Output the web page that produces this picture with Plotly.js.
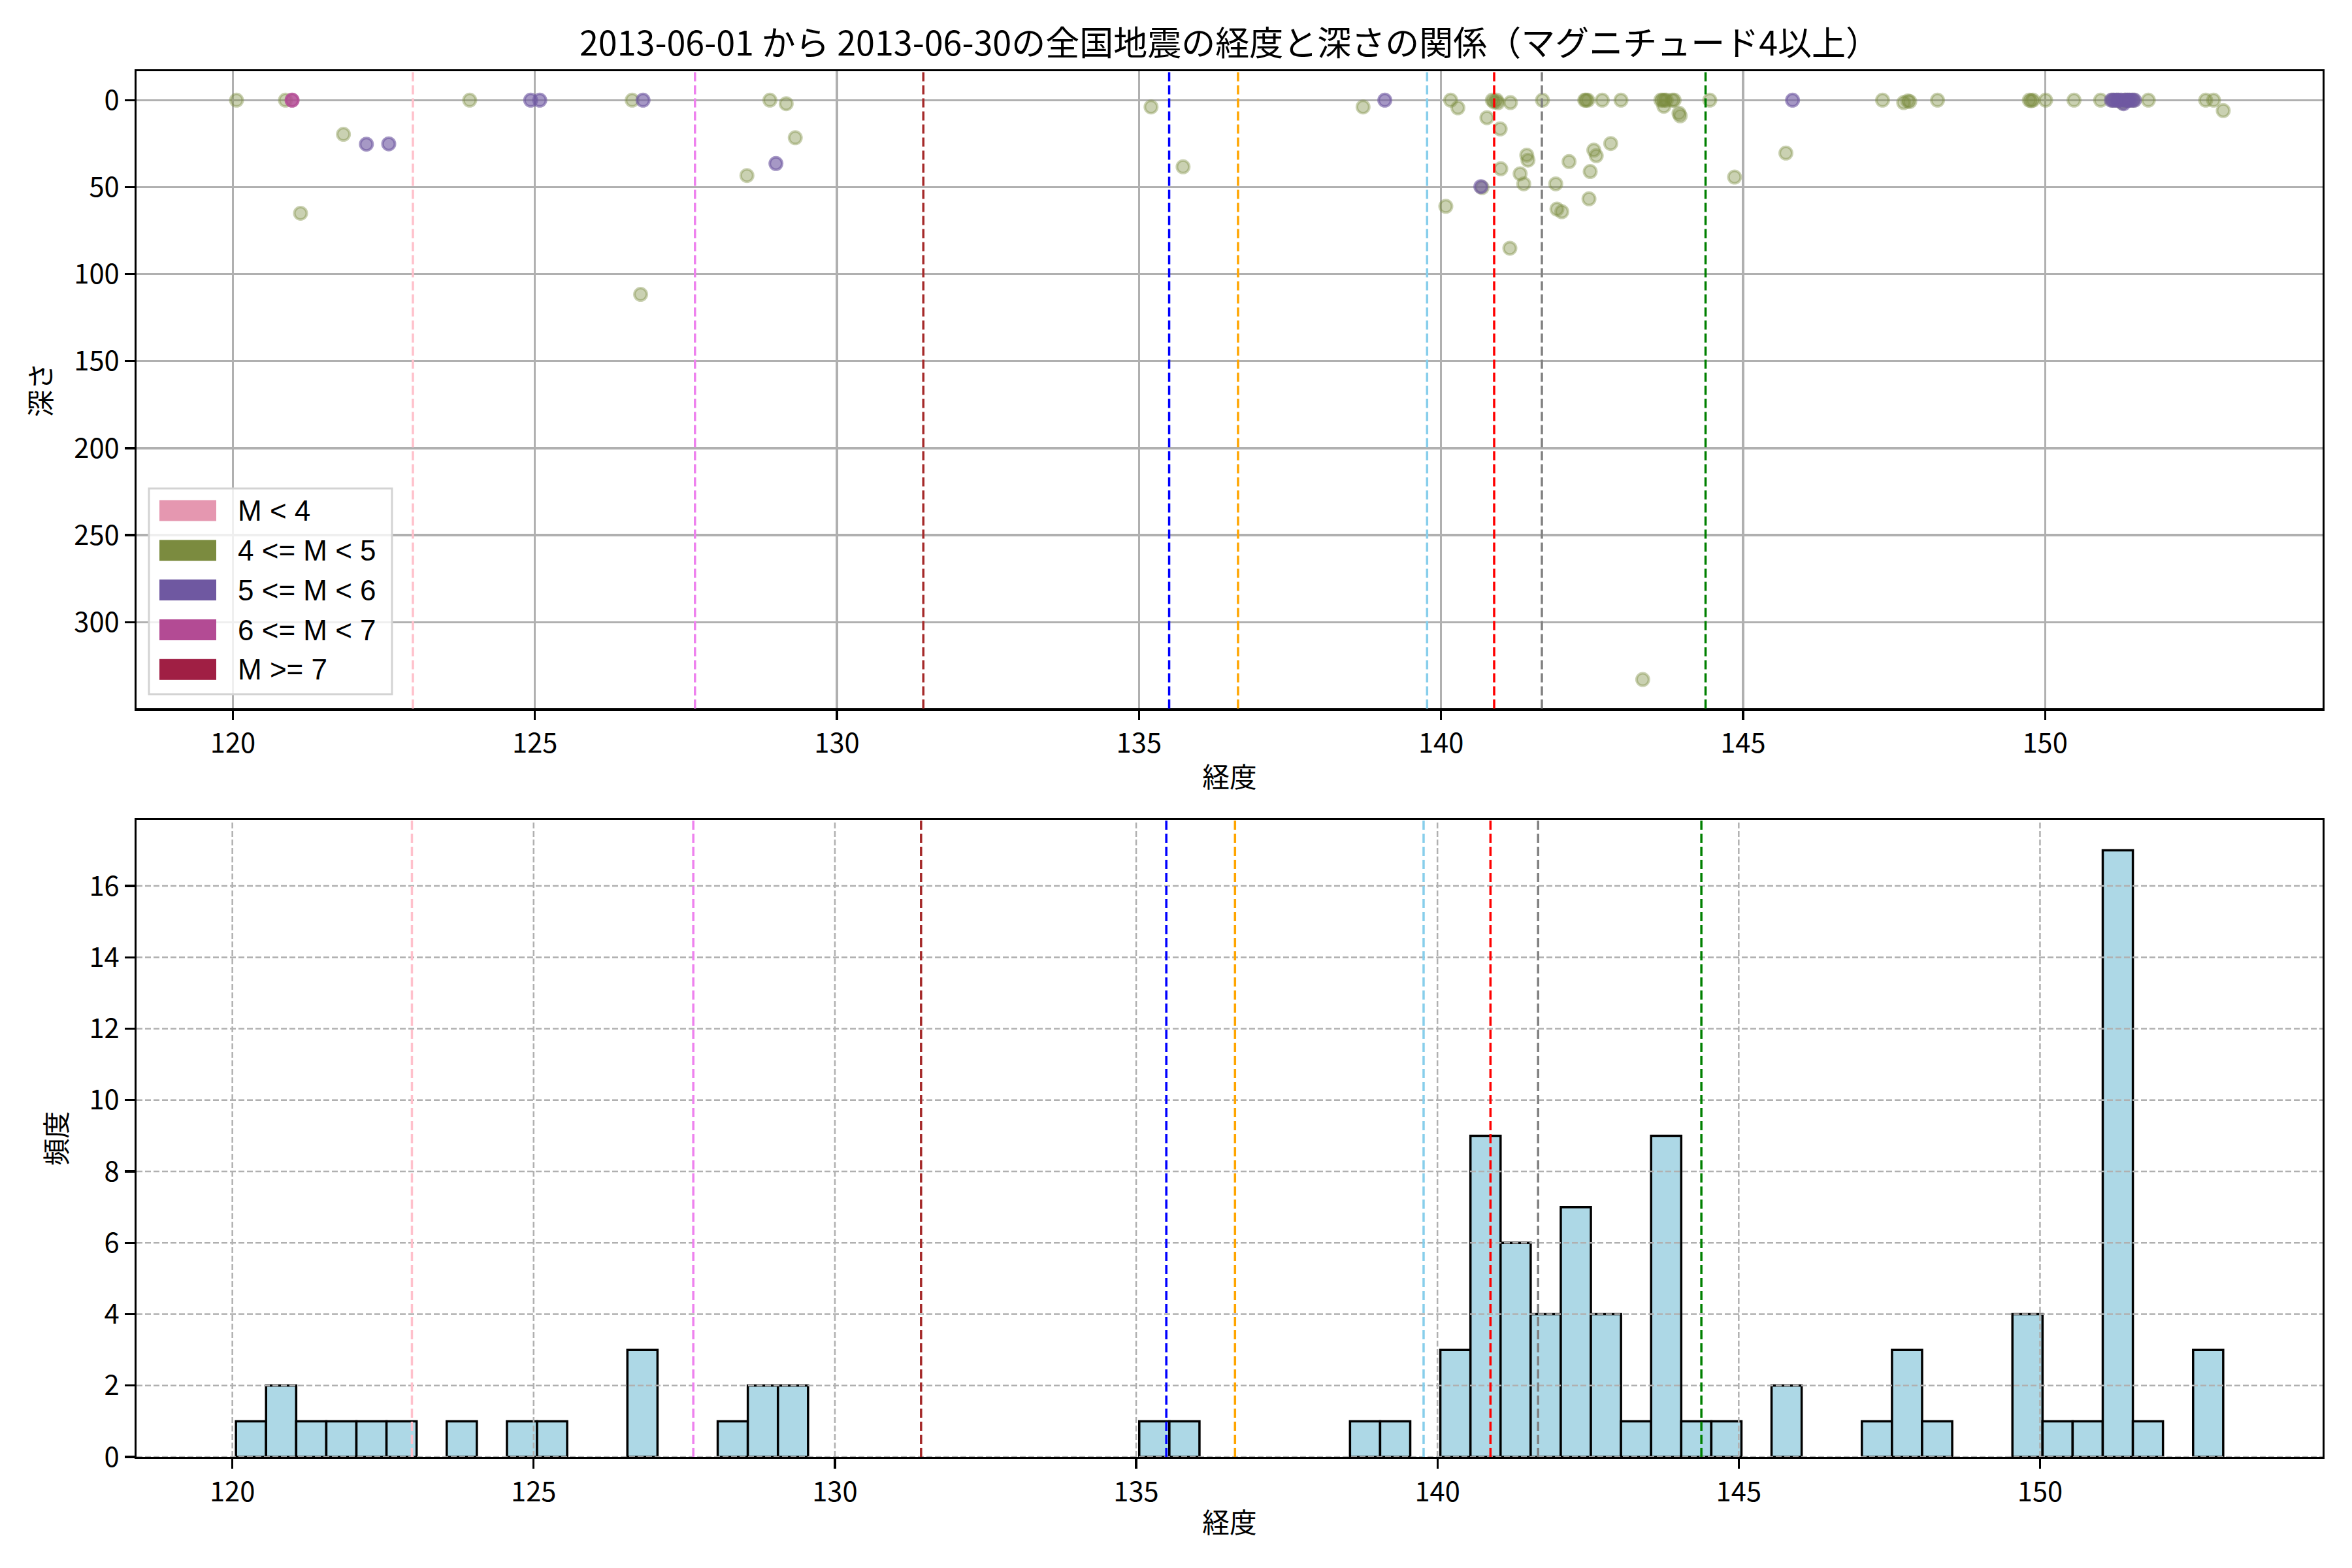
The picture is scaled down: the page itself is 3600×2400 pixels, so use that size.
<!DOCTYPE html>
<html><head><meta charset="utf-8">
<script src="https://cdn.plot.ly/plotly-3.0.1.min.js"></script>
<style>html,body{margin:0;padding:0;background:#fff}#chart{width:3600px;height:2400px}</style>
</head><body><div id="chart"></div>
<script>
// ---------------- data ----------------
const titleText = '2013-06-01 から 2013-06-30の全国地震の経度と深さの関係（マグニチュード4以上）';
const xLabel = '経度';
const depthLabel = '深さ';
const freqLabel = '頻度';

const classLabels = ['M < 4', '4 <= M < 5', '5 <= M < 6', '6 <= M < 7', 'M >= 7'];
const classColors = ['#E597B0', '#7B8B3F', '#6F58A1', '#B34B94', '#A01F44'];

// longitude, depth, magnitude class index (0..4)
const lonData = [
  120.06, 120.87, 120.98, 121.12, 121.83, 122.21, 122.58, 123.92, 124.93, 125.08,
  126.61, 126.79, 126.75, 128.51, 128.89, 128.99, 129.16, 129.31,
  135.20, 135.73, 138.71, 139.07,
  140.08, 140.16, 140.28,
  140.66, 140.68, 140.76, 140.85, 140.88, 140.92, 140.94, 140.98, 140.99,
  141.15, 141.14, 141.31, 141.37, 141.42, 141.44,
  141.68, 141.90, 141.92, 142.00,
  142.12, 142.38, 142.40, 142.43, 142.45, 142.47, 142.53,
  142.57, 142.67, 142.81, 142.98,
  143.34,
  143.64, 143.67, 143.69, 143.70, 143.73, 143.83, 143.86, 143.94, 143.96,
  144.45, 144.86, 145.71, 145.82,
  147.31, 147.66, 147.73, 147.76, 148.22,
  149.74, 149.77, 149.80, 150.01, 150.48, 150.92,
  151.10, 151.14, 151.18, 151.22, 151.26, 151.30, 151.33, 151.36, 151.40, 151.44, 151.48,
  151.12, 151.20, 151.28, 151.32, 151.38, 151.46,
  151.71, 152.66, 152.79, 152.95
];
const depthData = [
  0, 0, 0, 65, 19.6, 25.3, 25.1, 0, 0, 0,
  0, 0, 111.6, 43.3, 0, 36.4, 2, 21.6,
  3.9, 38.3, 3.9, 0,
  61, 0, 4.4,
  49.7, 50.2, 10.1, 0, 1, 0, 1.5, 16.5, 39.4,
  1.4, 85.1, 42.3, 48.1, 31.6, 34.5,
  0, 48.1, 62.6, 64.1,
  35.3, 0, 0, 0, 56.7, 41, 28.7,
  31.9, 0, 24.9, 0,
  333,
  0, 0, 3.5, 0, 0, 0, 0, 7.5, 9,
  0, 44.2, 30.4, 0,
  0, 1.4, 0.4, 0.8, 0,
  0, 0.3, 0, 0, 0, 0,
  0, 0, 0, 0, 0, 2, 0, 0, 0, 0, 0,
  0, 0, 1.5, 0, 0, 0,
  0, 0, 0, 6
];
const classData = [
  1, 1, 3, 1, 1, 2, 2, 1, 2, 2,
  1, 2, 1, 1, 1, 2, 1, 1,
  1, 1, 1, 2,
  1, 1, 1,
  2, 1, 1, 1, 1, 1, 1, 1, 1,
  1, 1, 1, 1, 1, 1,
  1, 1, 1, 1,
  1, 1, 1, 1, 1, 1, 1,
  1, 1, 1, 1,
  1,
  1, 1, 1, 1, 1, 1, 1, 1, 1,
  1, 1, 1, 2,
  1, 1, 1, 1, 1,
  1, 1, 1, 1, 1, 1,
  2, 2, 2, 2, 2, 2, 2, 2, 2, 2, 2,
  1, 1, 1, 1, 1, 1,
  1, 1, 1, 1
];

// reference longitudes (vertical dashed lines)
const refLons = [122.98, 127.65, 131.43, 135.50, 136.64, 139.77, 140.88, 141.67, 144.38];
const refColors = ['pink', 'violet', 'brown', 'blue', 'orange', 'skyblue', 'red', 'gray', 'green'];

const lonTicks = [120, 125, 130, 135, 140, 145, 150];
const depthTicks = [0, 50, 100, 150, 200, 250, 300];
const freqTicks = [0, 2, 4, 6, 8, 10, 12, 14, 16];

// histogram bins (66 bins from min to max longitude)
const binStart = 120.06, binEnd = 153.0, binSize = 0.4997;

// ---------------- helpers ----------------
const FONT = '"Noto Sans CJK JP", "Noto Sans", sans-serif';
const LATIN = '"Liberation Sans", "Noto Sans", sans-serif';
const W = 3600, H = 2400;
const ML = 209, MR = 45, MT = 109, MB = 170;
const topAx = {x0: 209, x1: 3555, y0: 109.3, y1: 1084.7};
function fx(px) { return (px - topAx.x0) / (topAx.x1 - topAx.x0); }
function fy(py) { return (topAx.y1 - py) / (topAx.y1 - topAx.y0); }
function rgba(hex, a) {
  const h = hex.replace('#', '');
  const r = parseInt(h.slice(0, 2), 16), g = parseInt(h.slice(2, 4), 16), b = parseInt(h.slice(4, 6), 16);
  return `rgba(${r},${g},${b},${a})`;
}
const classAlpha = [0.4, 0.4, 0.62, 0.85, 0.9];

// ---------------- traces ----------------
const traces = [];
classLabels.forEach((lab, ci) => {
  const xs = [], ys = [];
  lonData.forEach((v, i) => { if (classData[i] === ci) { xs.push(v); ys.push(depthData[i]); } });
  traces.push({
    type: 'scatter', mode: 'markers', x: xs, y: ys, name: lab, showlegend: false,
    xaxis: 'x', yaxis: 'y', hoverinfo: 'skip',
    marker: {size: 19, color: rgba(classColors[ci], classAlpha[ci]),
      line: {color: rgba(classColors[ci], classAlpha[ci]), width: 4}}
  });
});
traces.push({
  type: 'histogram', x: lonData, xaxis: 'x2', yaxis: 'y2', showlegend: false,
  xbins: {start: binStart, end: binEnd, size: binSize},
  marker: {color: '#ADD8E6', line: {color: '#000000', width: 3.5}}
});

// ---------------- shapes ----------------
const shapes = [];
// histogram grid (drawn above bars like matplotlib)
freqTicks.forEach(v => shapes.push({type: 'line', layer: 'above', xref: 'x2 domain', x0: 0, x1: 1, yref: 'y2', y0: v, y1: v,
  line: {color: '#b0b0b0', width: 2.5, dash: '9px,4px'}}));
lonTicks.forEach(v => shapes.push({type: 'line', layer: 'above', xref: 'x2', x0: v, x1: v, yref: 'y2 domain', y0: 0, y1: 1,
  line: {color: '#b0b0b0', width: 2.5, dash: '9px,4px'}}));
// reference lines in both panels
refLons.forEach((v, i) => {
  shapes.push({type: 'line', layer: 'above', xref: 'x', x0: v, x1: v, yref: 'y domain', y0: 0, y1: 1,
    line: {color: refColors[i], width: 3.5, dash: '14px,6px'}});
  shapes.push({type: 'line', layer: 'above', xref: 'x2', x0: v, x1: v, yref: 'y2 domain', y0: 0, y1: 1,
    line: {color: refColors[i], width: 3.5, dash: '14px,6px'}});
});
// legend box
shapes.push({type: 'rect', layer: 'above', xref: 'x domain', yref: 'y domain',
  x0: fx(228), x1: fx(600), y0: fy(1063), y1: fy(748),
  fillcolor: 'rgba(255,255,255,0.8)', line: {color: '#d3d3d3', width: 3}});
const rowY = [781.7, 842.7, 903.3, 964.3, 1025];
const annotations = [];
classLabels.forEach((lab, i) => {
  shapes.push({type: 'rect', layer: 'above', xref: 'x domain', yref: 'y domain',
    x0: fx(244), x1: fx(331), y0: fy(rowY[i] + 16), y1: fy(rowY[i] - 16),
    fillcolor: classColors[i], line: {width: 0}});
  annotations.push({xref: 'x domain', yref: 'y domain', x: fx(362), y: fy(rowY[i]), xanchor: 'left', yanchor: 'middle',
    text: lab, showarrow: false, font: {family: LATIN, size: 44, color: '#000'}});
});

// ---------------- layout ----------------
const axisCommon = {
  showline: true, linecolor: '#000', linewidth: 3.3, mirror: true,
  ticks: 'outside', ticklen: 14.6, tickwidth: 3.3, tickcolor: '#000',
  tickfont: {family: FONT, size: 41.7, color: '#000'},
  zeroline: false, automargin: false
};
const layout = {
  width: W, height: H, paper_bgcolor: '#fff', plot_bgcolor: '#fff',
  margin: {l: ML, r: MR, t: MT, b: MB},
  font: {family: FONT, color: '#000'},
  showlegend: false,
  title: {text: titleText, font: {family: FONT, size: 52, color: '#000'}, x: 0.5, xref: 'paper',
    y: 1 - 67 / H, yref: 'container', yanchor: 'middle'},
  xaxis: Object.assign({}, axisCommon, {domain: [0, 1], anchor: 'y', range: [118.405, 154.595], tickvals: lonTicks,
    showgrid: true, gridcolor: '#b0b0b0', gridwidth: 3.3,
    title: {text: xLabel, font: {family: FONT, size: 41.7}, standoff: 13}}),
  yaxis: Object.assign({}, axisCommon, {domain: [0.5401, 1], anchor: 'x', range: [349.65, -16.65], tickvals: depthTicks,
    showgrid: true, gridcolor: '#b0b0b0', gridwidth: 3.3,
    title: {text: depthLabel, font: {family: FONT, size: 41.7}, standoff: 22}}),
  xaxis2: Object.assign({}, axisCommon, {domain: [0, 1], anchor: 'y2', range: [118.41, 154.69], tickvals: lonTicks,
    showgrid: false,
    title: {text: xLabel, font: {family: FONT, size: 41.7}, standoff: 9}}),
  yaxis2: Object.assign({}, axisCommon, {domain: [0, 0.4597], anchor: 'x2', range: [0, 17.85], tickvals: freqTicks,
    showgrid: false,
    title: {text: freqLabel, font: {family: FONT, size: 41.7}, standoff: 22}}),
  bargap: 0,
  shapes: shapes,
  annotations: annotations
};

Plotly.newPlot('chart', traces, layout, {staticPlot: true, displayModeBar: false});
</script>
</body></html>
